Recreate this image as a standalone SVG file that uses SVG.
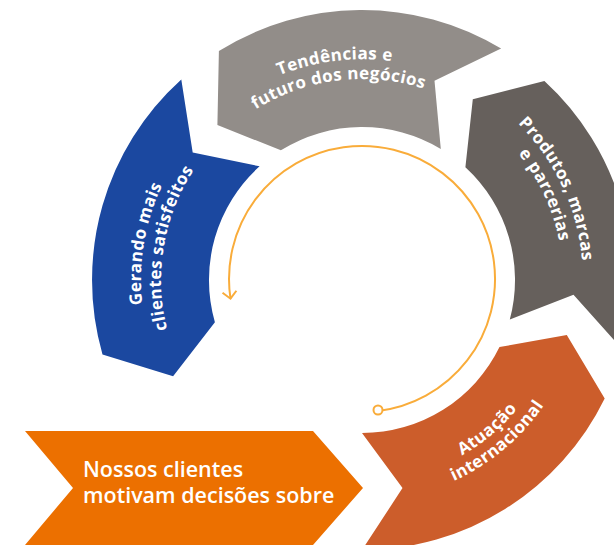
<svg xmlns="http://www.w3.org/2000/svg" width="614" height="545" viewBox="0 0 614 545">
<style>
.seg-label{font-family:"Open Sans","Noto Sans","DejaVu Sans",sans-serif;font-weight:700;font-size:17px;fill:#ffffff;letter-spacing:0.4px}
.chev-label{font-family:"Open Sans","Noto Sans","DejaVu Sans",sans-serif;font-weight:600;font-size:21.5px;fill:#ffffff}
.flow{fill:none;stroke:#f9ac3a;stroke-width:2}
</style>
<defs>
<marker id="vhead" markerUnits="userSpaceOnUse" markerWidth="20" markerHeight="20" viewBox="-10 -10 20 20" refX="0" refY="0" orient="auto">
<path d="M -7,-7 L 0,0 L -7,7" fill="none" stroke="#f9ac3a" stroke-width="2"/>
</marker>
<path id="pT1" d="M 158.6,194.4 A 221 221 0 0 1 538.5,147.0"/>
<path id="pT2" d="M 177.0,201.5 A 201 201 0 0 1 522.5,159.0"/>
<path id="pG1" d="M 221.4,450.5 A 221 221 0 0 1 284.6,73.0"/>
<path id="pG2" d="M 234.2,435.1 A 201 201 0 0 1 291.6,91.7"/>
<path id="pP1" d="M 381.3,59.8 A 221 221 0 0 1 543.0,406.8"/>
<path id="pP2" d="M 379.5,79.8 A 201 201 0 0 1 526.7,395.3"/>
<path id="pA1" d="M 292.9,469.8 A 202 202 0 0 0 560.9,244.9"/>
<path id="pA2" d="M 286.4,487.7 A 221 221 0 0 0 579.6,241.6"/>
</defs>
<rect width="614" height="545" fill="#ffffff"/>
<g id="seg-tendencias">
<path d="M 501.1,48.6 A 270 270 0 0 0 218.9,51.0 L 217.4,125.0 L 280.9,150.3 A 153 153 0 0 1 440.8,148.9 L 434.5,80.8 Z" fill="#928d89"/>
<text class="seg-label" text-anchor="middle"><textPath href="#pT1" startOffset="50%">Tendências e</textPath></text>
<text class="seg-label" text-anchor="middle"><textPath href="#pT2" startOffset="50%">futuro dos negócios</textPath></text>
</g>
<g id="seg-produtos">
<path d="M 622.8,349.9 A 270 270 0 0 0 544.4,80.9 L 472.8,99.2 L 465.4,167.2 A 153 153 0 0 1 509.8,319.6 L 573.5,294.8 Z" fill="#66605c"/>
<text class="seg-label" text-anchor="middle"><textPath href="#pP1" startOffset="50%">Produtos, marcas</textPath></text>
<text class="seg-label" text-anchor="middle"><textPath href="#pP2" startOffset="50%">e parcerias</textPath></text>
</g>
<g id="seg-atuacao">
<path d="M 362,550 A 270 270 0 0 0 604.7,398.4 L 566.8,334.9 L 499.5,347.1 A 153 153 0 0 1 362,433 L 402.5,488.1 Z" fill="#cc5d2b"/>
<text class="seg-label" text-anchor="middle"><textPath href="#pA1" startOffset="50%">Atuação</textPath></text>
<text class="seg-label" text-anchor="middle"><textPath href="#pA2" startOffset="50%">internacional</textPath></text>
</g>
<g id="seg-gerando">
<path d="M 181.3,79.4 A 270 270 0 0 0 102.5,354.4 L 173.1,376.2 L 214.9,322.2 A 153 153 0 0 1 259.6,166.3 L 192.7,152.4 Z" fill="#1b48a0"/>
<text class="seg-label" text-anchor="middle"><textPath href="#pG1" startOffset="50%">Gerando mais</textPath></text>
<text class="seg-label" text-anchor="middle"><textPath href="#pG2" startOffset="50%">clientes satisfeitos</textPath></text>
</g>
<g id="chevron-clientes">
<path d="M 25,431 L 313,431 L 363,488 L 313,545 L 25,545 L 73,488 Z" fill="#ec7000"/>
<text class="chev-label" x="83" y="477">Nossos clientes</text>
<text class="chev-label" x="83" y="503">motivam decisões sobre</text>
</g>
<g id="connectors">
<path class="flow" d="M 378.2,411.0 A 133 133 0 1 0 230.5,298.7" marker-end="url(#vhead)"/>
<circle cx="378" cy="410" r="4.5" fill="#ffffff" stroke="#f9ac3a" stroke-width="2"/>
</g>
</svg>
